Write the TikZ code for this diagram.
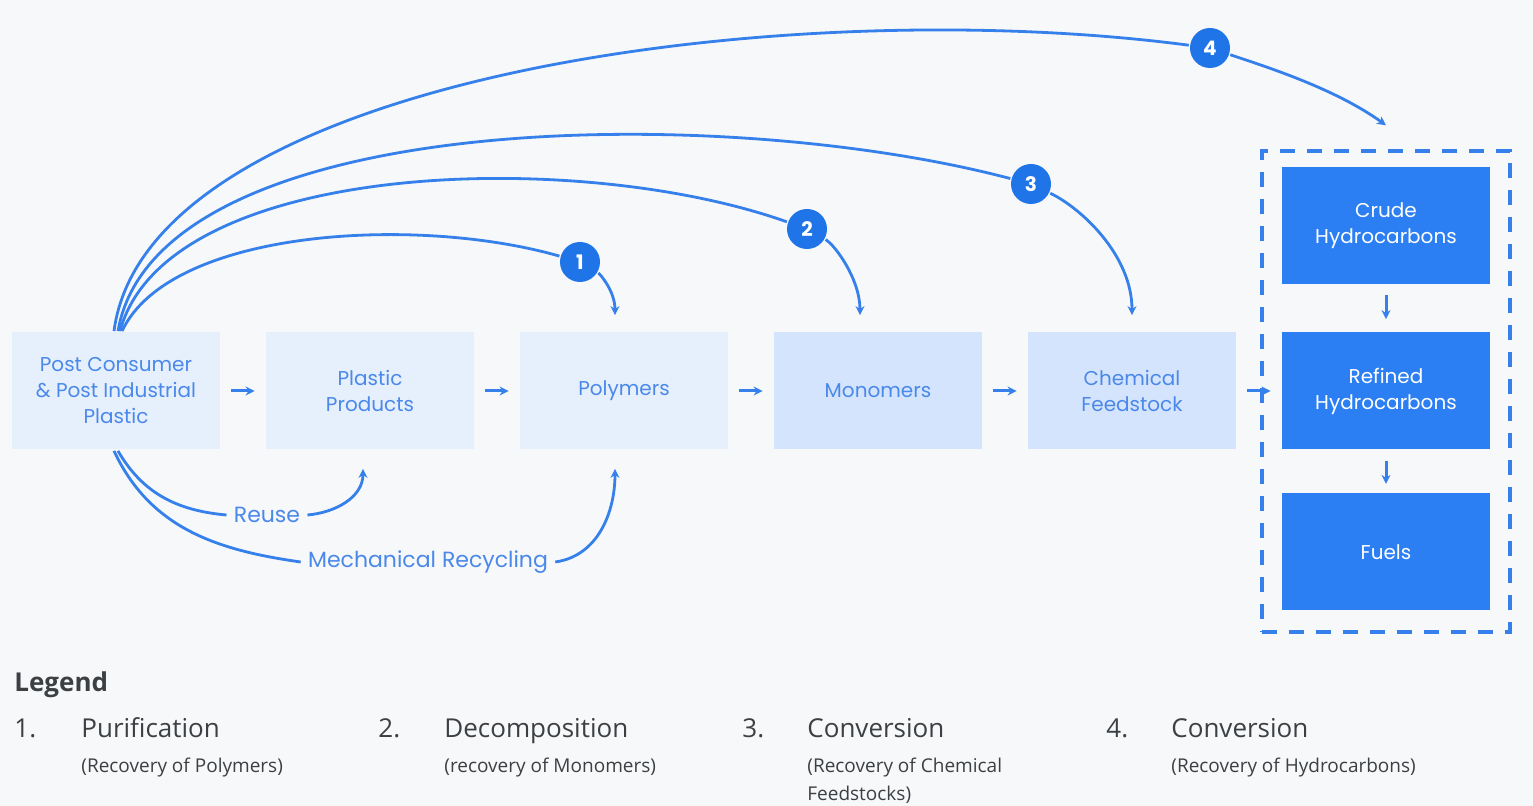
\documentclass[tikz,border=0pt]{standalone}
\usepackage{fontspec}
\setmainfont{Poppins}
\newfontfamily\legendfont{Open Sans}
\usetikzlibrary{positioning, fit, arrows.meta}

\definecolor{bg}{HTML}{F7F8FA}
\definecolor{palebox}{HTML}{E6F0FD}
\definecolor{midbox}{HTML}{D4E4FC}
\definecolor{deepbox}{HTML}{2B7FF2}
\definecolor{flow}{HTML}{3580EA}
\definecolor{badgeblue}{HTML}{1F74E8}
\definecolor{boxtext}{HTML}{4A88EA}
\definecolor{legtext}{HTML}{3C4043}

\begin{document}
\begin{tikzpicture}[x=1pt, y=1pt, >={Stealth[length=4.5pt, width=4.5pt]}, node distance=127pt, line width=1.4pt, draw=flow]
  \tikzstyle{stage}=[minimum width=104pt, minimum height=58.5pt, inner sep=0pt, align=center, font=\fontsize{10}{13}\selectfont]
  \tikzstyle{pale}=[stage, fill=palebox, text=boxtext]
  \tikzstyle{mid}=[stage, fill=midbox, text=boxtext]
  \tikzstyle{deep}=[stage, fill=deepbox, text=white]
  \tikzstyle{group}=[draw=flow, line width=2pt, dash pattern=on 7.5pt off 6pt, inner xsep=9.5pt, inner ysep=8.5pt, yshift=-1.5pt]
  \tikzstyle{badge}=[circle, fill=badgeblue, text=white, minimum size=20pt, inner sep=0pt, font=\bfseries\fontsize{10}{10}\selectfont]
  \tikzstyle{note}=[text=boxtext, inner sep=3pt, font=\fontsize{11}{12}\selectfont]
  \tikzstyle{short}=[->, flow, line width=1.5pt, shorten <=5pt, shorten >=5pt]
  \tikzstyle{legnum}=[anchor=base west, inner sep=0pt, text=legtext, font=\legendfont\fontsize{13}{15}\selectfont]
  \tikzstyle{legsub}=[anchor=base west, inner sep=0pt, align=left, text=legtext, font=\legendfont\fontsize{9.5}{14}\selectfont]

  % Background
  \fill[bg] (-58,-207.5) rectangle (708.5,195.5);
  \useasboundingbox (-58,-207.5) rectangle (708.5,195.5);

  % Stages
  \node[pale] (src) at (0,0) {Post Consumer\\\& Post Industrial\\Plastic};
  \node[pale, right of=src] (prod) {Plastic\\Products};
  \node[pale, right of=prod] (poly) {Polymers};
  \node[mid, right of=poly] (mono) {Monomers};
  \node[mid, right of=mono] (chem) {Chemical\\Feedstock};
  \node[deep, right of=chem] (refined) {Refined\\Hydrocarbons};
  \node[deep, above=23pt of refined] (crude) {Crude\\Hydrocarbons};
  \node[deep, below=20.5pt of refined] (fuels) {Fuels};
  \node[group, fit=(crude)(fuels)] (hc) {};

  % Chain
  \draw[short] (src.east) -- (prod.west);
  \draw[short] (prod.east) -- (poly.west);
  \draw[short] (poly.east) -- (mono.west);
  \draw[short] (mono.east) -- (chem.west);
  \draw[short] (chem.east) -- (refined.west);
  \draw[short, shorten >=6pt] (crude.south) -- (refined.north);
  \draw[short, shorten >=4pt] (refined.south) -- (fuels.north);

  % Recovery routes
  \node[badge] (b1) at (232,64.5) {1};
  \node[badge] (b2) at (345.5,81) {2};
  \node[badge] (b3) at (457.5,103.5) {3};
  \node[badge] (b4) at (547,171.5) {4};

  \draw ([xshift=3pt]src.north) .. controls +(24,51) and +(-82,23.5) .. (b1);
  \draw[->] (b1) .. controls +(10,-6) and +(0,12) .. ([xshift=-4.5pt,yshift=8pt]poly.north);
  \draw ([xshift=2pt]src.north) .. controls +(23,85.5) and +(-115.5,41) .. (b2);
  \draw[->] (b2) .. controls +(14,-8) and +(0,18) .. ([xshift=-9pt,yshift=8pt]mono.north);
  \draw ([xshift=1pt]src.north) .. controls +(19,110.5) and +(-157.5,41.5) .. (b3);
  \draw[->] (b3) .. controls +(25,-12) and +(0,30) .. ([yshift=8pt]chem.north);
  \draw ([xshift=-1pt]src.north) .. controls +(16.5,125.5) and +(-217,28.5) .. (b4);
  \draw[->] (b4) .. controls +(30,-10) and +(-25,18) .. ([yshift=12pt]hc.north);

  % Reuse and recycling
  \node[note] (reuse) at (75.5,-62) {Reuse};
  \node[note] (mech) at (156,-85.5) {Mechanical Recycling};
  \draw ([xshift=1pt]src.south) to[out=-60,in=175] (reuse.west);
  \draw[->] (reuse.east) to[out=5,in=-90] ([xshift=-3.5pt,yshift=-9pt]prod.south);
  \draw ([xshift=-1pt]src.south) to[out=-65,in=172] (mech.west);
  \draw[->] (mech.east) to[out=8,in=-90] ([xshift=-4.5pt,yshift=-9pt]poly.south);

  % Legend
  \node[legnum, font=\legendfont\bfseries\fontsize{13}{15}\selectfont] (legend) at (-51.5,-150.5) {Legend};
  \node[legnum] (n1) at (-51.5,-173.5) {1.};
  \node[legnum] (t1) at (-18,-173.5) {Purification};
  \node[legsub] (s1) at (-18,-191) {(Recovery of Polymers)};
  \node[legnum] (n2) at (130.5,-173.5) {2.};
  \node[legnum] (t2) at (163.5,-173.5) {Decomposition};
  \node[legsub] (s2) at (163.5,-191) {(recovery of Monomers)};
  \node[legnum] (n3) at (312.5,-173.5) {3.};
  \node[legnum] (t3) at (345,-173.5) {Conversion};
  \node[legsub] (s3) at (345,-205) {(Recovery of Chemical\\Feedstocks)};
  \node[legnum] (n4) at (494.5,-173.5) {4.};
  \node[legnum] (t4) at (527,-173.5) {Conversion};
  \node[legsub] (s4) at (527,-191) {(Recovery of Hydrocarbons)};
\end{tikzpicture}
\end{document}
